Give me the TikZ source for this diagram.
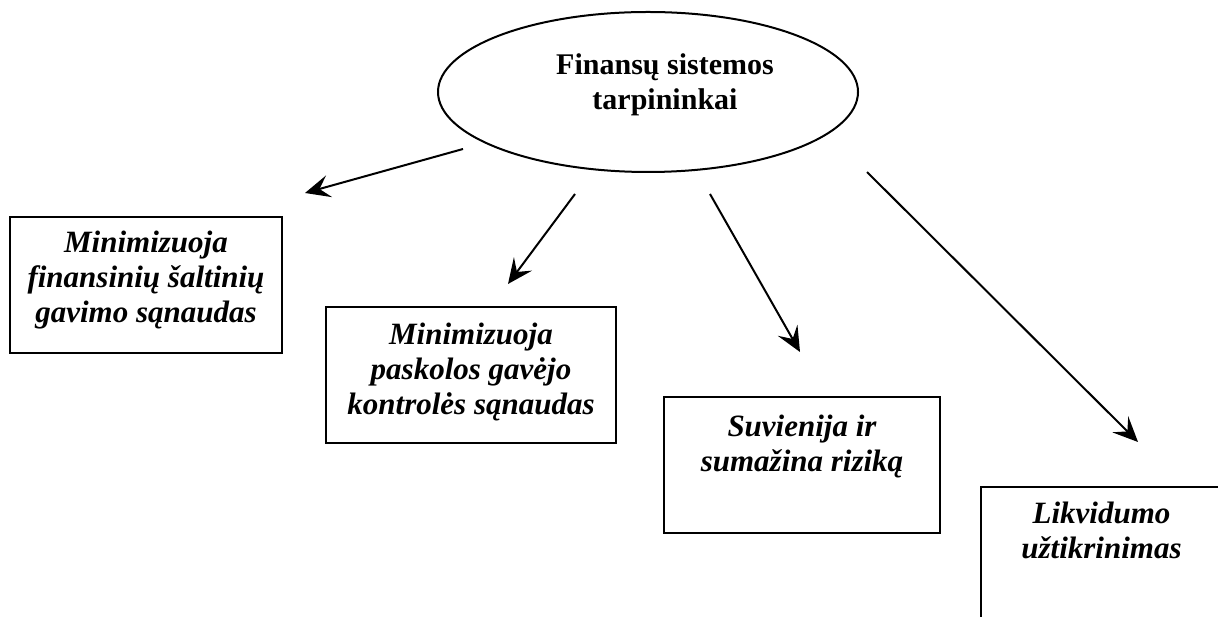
\documentclass[tikz,border=0pt]{standalone}
\usepackage{fontspec}
\setmainfont{Liberation Serif}
\usetikzlibrary{shapes.geometric,arrows.meta,positioning}

\begin{document}
\begin{tikzpicture}[x=0.4pt, y=-0.4pt,
        bubble/.style={draw, ellipse, line width=0.8pt, inner sep=0pt, minimum width=168pt, minimum height=64pt},
        effect/.style={draw, rectangle, line width=0.8pt, inner sep=0pt, minimum height=54.4pt},
        efftext/.style={anchor=north, align=center, inner sep=0pt, font=\fontsize{12.4}{14}\selectfont\bfseries\itshape},
        link/.style={-{Stealth[length=10pt, width=9pt, inset=4pt]}, line width=0.8pt}]
        \useasboundingbox (0,0) rectangle (1218,617);
        \clip (0,0) rectangle (1218,617);

        % Ellipse
        \node[bubble] (ell) at (648,92) {};
        \node[anchor=north, align=center, inner sep=0pt, font=\fontsize{12}{14}\selectfont\bfseries] (ttl) at (665,53) {Finansų sistemos\\tarpininkai};

        % Boxes
        \node[effect, minimum width=108.8pt] (bx1) at (146,285) {};
        \node[efftext, below=5.6pt of bx1.north] (tx1) {Minimizuoja\\finansinių šaltinių\\gavimo sąnaudas};

        \node[effect, minimum width=116pt] (bx2) at (471,375) {};
        \node[efftext, below=6.4pt of bx2.north] (tx2) {Minimizuoja\\paskolos gavėjo\\kontrolės sąnaudas};

        \node[effect, minimum width=110.4pt] (bx3) at (802,465) {};
        \node[efftext, below=7.2pt of bx3.north] (tx3) {Suvienija ir\\sumažina riziką};

        \node[effect, minimum width=96.4pt] (bx4) at (1101.5,555) {};
        \node[efftext, below=6pt of bx4.north] (tx4) {Likvidumo\\užtikrinimas};

        % Arrows
        \coordinate (a1s) at (463,149);
        \coordinate (a1e) at (305,193);
        \coordinate (a2s) at (575,194);
        \coordinate (a2e) at (508,284);
        \coordinate (a3s) at (710,194);
        \coordinate (a3e) at (800,352);
        \coordinate (a4s) at (867,172);
        \coordinate (a4e) at (1138,442);
        \draw[link] (a1s) -- (a1e);
        \draw[link] (a2s) -- (a2e);
        \draw[link] (a3s) -- (a3e);
        \draw[link] (a4s) -- (a4e);
\end{tikzpicture}
\end{document}
